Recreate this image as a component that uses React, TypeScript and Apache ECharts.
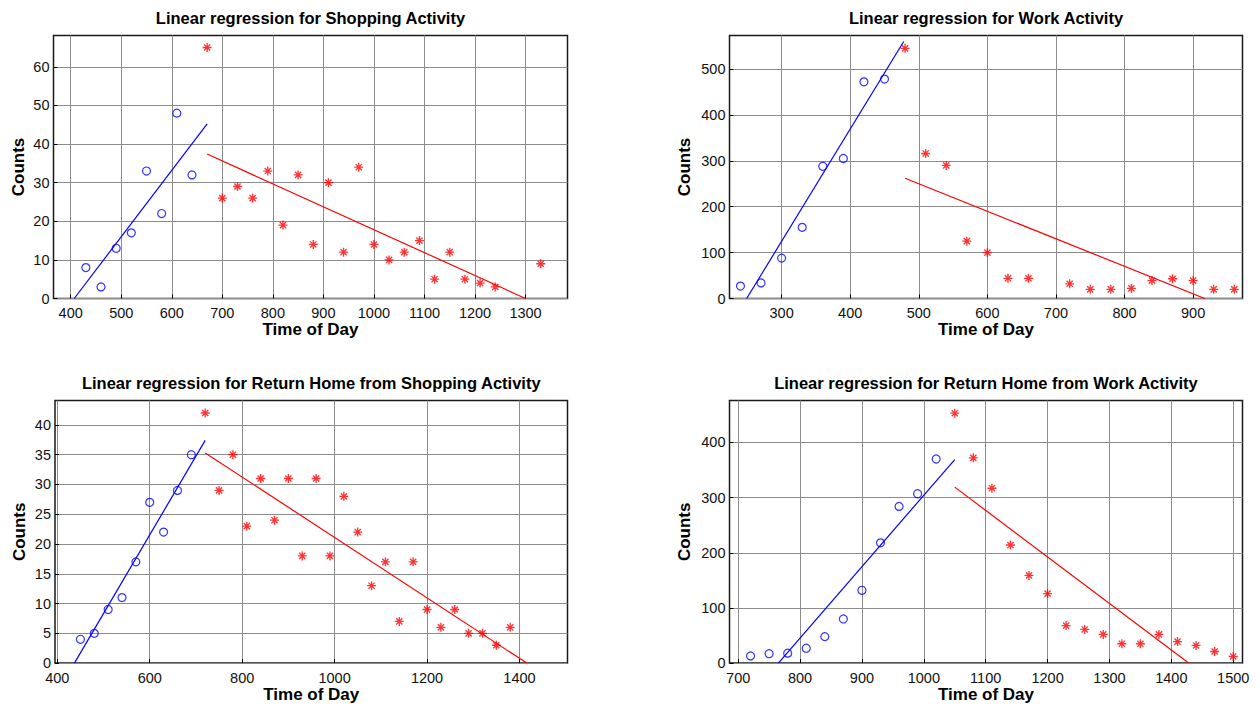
import React, { useEffect, useRef } from "react";
import * as echarts from "echarts";

// ---------- titles ----------
const panelTitles = [
  "Linear regression for Shopping Activity",
  "Linear regression for Work Activity",
  "Linear regression for Return Home from Shopping Activity",
  "Linear regression for Return Home from Work Activity",
];
const xAxisTitle = "Time of Day";
const yAxisTitle = "Counts";

// ---------- Panel 1: Shopping ----------
const p1BlueX = [430, 460, 490, 520, 550, 580, 610, 640];
const p1BlueY = [8, 3, 13, 17, 33, 22, 48, 32];
const p1RedX = [670, 700, 730, 760, 790, 820, 850, 880, 910, 940, 970, 1000, 1030, 1060, 1090, 1120, 1150, 1180, 1210, 1240, 1330];
const p1RedY = [65, 26, 29, 26, 33, 19, 32, 14, 30, 12, 34, 14, 10, 12, 15, 5, 12, 5, 4, 3, 9];
const p1BlueFit = [[407, 0], [670, 45.2]];
const p1RedFit = [[670, 37.4], [1300, 0]];
const p1XTicks = [400, 500, 600, 700, 800, 900, 1000, 1100, 1200, 1300];
const p1YTicks = [0, 10, 20, 30, 40, 50, 60];
const p1XRange = [366, 1383];
const p1YRange = [0, 68.1];

// ---------- Panel 2: Work ----------
const p2BlueX = [240, 270, 300, 330, 360, 390, 420, 450];
const p2BlueY = [27, 34, 88, 155, 288, 305, 472, 478];
const p2RedX = [480, 510, 540, 570, 600, 630, 660, 720, 750, 780, 810, 840, 870, 900, 930, 960];
const p2RedY = [545, 316, 290, 125, 100, 44, 44, 32, 20, 20, 22, 39, 43, 39, 20, 20];
const p2BlueFit = [[249, 0], [478, 560]];
const p2RedFit = [[480, 262], [917, 0]];
const p2XTicks = [300, 400, 500, 600, 700, 800, 900];
const p2YTicks = [0, 100, 200, 300, 400, 500];
const p2XRange = [224, 972];
const p2YRange = [0, 573];

// ---------- Panel 3: Return Home from Shopping ----------
const p3BlueX = [450, 480, 510, 540, 570, 600, 630, 660, 690];
const p3BlueY = [4, 5, 9, 11, 17, 27, 22, 29, 35];
const p3RedX = [720, 750, 780, 810, 840, 870, 900, 930, 960, 990, 1020, 1050, 1080, 1110, 1140, 1170, 1200, 1230, 1260, 1290, 1320, 1350, 1380];
const p3RedY = [42, 29, 35, 23, 31, 24, 31, 18, 31, 18, 28, 22, 13, 17, 7, 17, 9, 6, 9, 5, 5, 3, 6];
const p3BlueFit = [[437, 0], [720, 37.4]];
const p3RedFit = [[720, 35.3], [1416, 0]];
const p3XTicks = [400, 600, 800, 1000, 1200, 1400];
const p3YTicks = [0, 5, 10, 15, 20, 25, 30, 35, 40];
const p3XRange = [395, 1504];
const p3YRange = [0, 44.1];

// ---------- Panel 4: Return Home from Work ----------
const p4BlueX = [720, 750, 780, 810, 840, 870, 900, 930, 960, 990, 1020];
const p4BlueY = [13, 17, 18, 27, 48, 80, 132, 218, 284, 307, 370];
const p4RedX = [1050, 1080, 1110, 1140, 1170, 1200, 1230, 1260, 1290, 1320, 1350, 1380, 1410, 1440, 1470, 1500];
const p4RedY = [453, 372, 317, 214, 159, 126, 68, 61, 52, 35, 35, 52, 39, 32, 21, 12];
const p4BlueFit = [[765, 0], [1050, 369]];
const p4RedFit = [[1050, 319], [1428, 0]];
const p4XTicks = [700, 800, 900, 1000, 1100, 1200, 1300, 1400, 1500];
const p4YTicks = [0, 100, 200, 300, 400];
const p4XRange = [686, 1515];
const p4YRange = [0, 476];

// ---------- layout (pixels) ----------
const layout = [
  { left: 53.5, top: 35.5, width: 514, height: 263, yNameGap: 27 },
  { left: 729.5, top: 35.5, width: 513, height: 263, yNameGap: 37 },
  { left: 55, top: 400.5, width: 512.5, height: 263, yNameGap: 27 },
  { left: 729.5, top: 400.5, width: 513, height: 263, yNameGap: 37 },
];

const panels = [
  { bx: p1BlueX, by: p1BlueY, rx: p1RedX, ry: p1RedY, bf: p1BlueFit, rf: p1RedFit, xt: p1XTicks, yt: p1YTicks, xr: p1XRange, yr: p1YRange },
  { bx: p2BlueX, by: p2BlueY, rx: p2RedX, ry: p2RedY, bf: p2BlueFit, rf: p2RedFit, xt: p2XTicks, yt: p2YTicks, xr: p2XRange, yr: p2YRange },
  { bx: p3BlueX, by: p3BlueY, rx: p3RedX, ry: p3RedY, bf: p3BlueFit, rf: p3RedFit, xt: p3XTicks, yt: p3YTicks, xr: p3XRange, yr: p3YRange },
  { bx: p4BlueX, by: p4BlueY, rx: p4RedX, ry: p4RedY, bf: p4BlueFit, rf: p4RedFit, xt: p4XTicks, yt: p4YTicks, xr: p4XRange, yr: p4YRange },
];

const FONT = "'Liberation Sans', Arial, Helvetica, sans-serif";
const BLUE = "#0000ff";
const RED = "#ff0000";
const GRIDC = "#8c8c8c";

const asteriskPath =
  "path://M8.5 0H11.5V20H8.5Z M0 8.5H20V11.5H0Z M2.1 4.2L4.2 2.1L17.9 15.8L15.8 17.9Z M15.8 2.1L17.9 4.2L4.2 17.9L2.1 15.8Z";

const plain = (v: number) => String(v);

function buildOption() {
  const grid: any[] = [];
  const xAxis: any[] = [];
  const yAxis: any[] = [];
  const series: any[] = [];
  const title: any[] = [];

  panels.forEach((p, i) => {
    const L = layout[i];
    grid.push({
      left: L.left,
      top: L.top,
      width: L.width,
      height: L.height,
      show: true,
      borderColor: "#1a1a1a",
      borderWidth: 1.5,
      backgroundColor: "#ffffff",
      containLabel: false,
    });
    title.push({
      text: panelTitles[i],
      left: L.left + L.width / 2,
      top: L.top - 26,
      textAlign: "center",
      padding: 0,
      textStyle: { fontFamily: FONT, fontSize: 16.5, fontWeight: "bold", color: "#000" },
    });
    xAxis.push({
      type: "value",
      gridIndex: i,
      min: p.xr[0],
      max: p.xr[1],
      axisLine: { show: false },
      axisTick: { show: true, inside: true, length: 4, customValues: p.xt, lineStyle: { color: "#000", width: 1 } },
      axisLabel: { customValues: p.xt, formatter: plain, margin: 7, fontFamily: FONT, fontSize: 14.5, color: "#111" },
      splitLine: { show: true, lineStyle: { color: GRIDC, width: 1 } },
      name: xAxisTitle,
      nameLocation: "middle",
      nameGap: 22,
      nameTextStyle: { fontFamily: FONT, fontSize: 17, fontWeight: "bold", color: "#000" },
    });
    yAxis.push({
      type: "value",
      gridIndex: i,
      min: p.yr[0],
      max: p.yr[1],
      axisLine: { show: false },
      axisTick: { show: true, inside: true, length: 4, customValues: p.yt, lineStyle: { color: "#000", width: 1 } },
      axisLabel: { customValues: p.yt, formatter: plain, margin: 4, fontFamily: FONT, fontSize: 14.5, color: "#111" },
      splitLine: { show: true, lineStyle: { color: GRIDC, width: 1 } },
      name: yAxisTitle,
      nameLocation: "middle",
      nameGap: L.yNameGap,
      nameTextStyle: { fontFamily: FONT, fontSize: 17, fontWeight: "bold", color: "#000" },
    });
    series.push({
      type: "scatter",
      xAxisIndex: i,
      yAxisIndex: i,
      data: p.bx.map((x, k) => [x, p.by[k]]),
      symbol: "circle",
      symbolSize: 8,
      itemStyle: { color: "rgba(0,0,0,0)", borderColor: BLUE, borderWidth: 1.2 },
      z: 3,
    });
    series.push({
      type: "scatter",
      xAxisIndex: i,
      yAxisIndex: i,
      data: p.rx.map((x, k) => [x, p.ry[k]]),
      symbol: asteriskPath,
      symbolSize: 9,
      itemStyle: { color: RED },
      z: 3,
    });
    series.push({
      type: "line",
      xAxisIndex: i,
      yAxisIndex: i,
      data: p.bf,
      showSymbol: false,
      symbol: "none",
      lineStyle: { color: BLUE, width: 1.2 },
      z: 4,
    });
    series.push({
      type: "line",
      xAxisIndex: i,
      yAxisIndex: i,
      data: p.rf,
      showSymbol: false,
      symbol: "none",
      lineStyle: { color: RED, width: 1.2 },
      z: 4,
    });
  });

  return {
    animation: false,
    backgroundColor: "#ffffff",
    title,
    grid,
    xAxis,
    yAxis,
    series,
  };
}

export default function App() {
  const ref = useRef<HTMLDivElement>(null);
  useEffect(() => {
    if (!ref.current) return;
    const chart = echarts.init(ref.current, null, { renderer: "svg" });
    chart.setOption(buildOption());
    return () => chart.dispose();
  }, []);
  return (
    <div
      ref={ref}
      style={{ position: "fixed", left: 0, top: 0, width: 1260, height: 704, background: "#fff" }}
    />
  );
}
